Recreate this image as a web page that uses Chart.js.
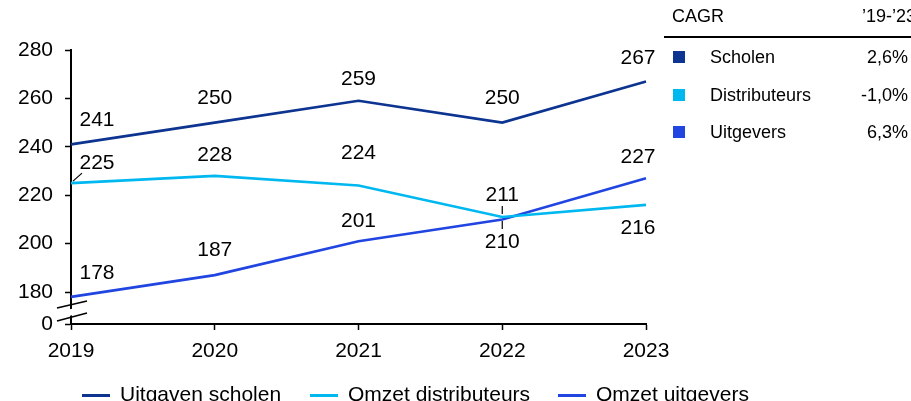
<!DOCTYPE html>
<html lang="nl">
<head>
    <meta charset="UTF-8">
    <title>Uitgaven scholen en omzet</title>
    <script src="https://cdn.jsdelivr.net/npm/chart.js"></script>
    <style>
        body {
            margin: 0;
            padding: 0;
            background: #fff;
            font-family: "Liberation Sans", Arial, sans-serif;
            color: #000;
        }
        .wrap {
            position: relative;
            width: 911px;
            height: 401px;
            overflow: hidden;
        }
        #chartCanvas {
            position: absolute;
            left: 0;
            top: 0;
        }
        /* CAGR table */
        .cagr {
            position: absolute;
            left: 664px;
            top: 0;
            width: 260px;
            font-size: 18px;
        }
        .cagr .head {
            position: absolute;
            top: 6px;
            left: 8px;
            width: 240px;
        }
        .cagr .rule {
            position: absolute;
            top: 36px;
            left: 0;
            width: 250px;
            border-top: 2px solid #000;
        }
        .cagr .row {
            position: absolute;
            left: 0;
            width: 247px;
            height: 20px;
            line-height: 20px;
        }
        .cagr .sq {
            position: absolute;
            left: 9px;
            top: 4px;
            width: 12px;
            height: 12px;
        }
        .cagr .name { position: absolute; left: 46px; }
        .cagr .val { position: absolute; right: 3px; }
        .cagr .headval { position: absolute; right: -4px; }
        /* legend */
        .legend {
            position: absolute;
            top: 382px;
            left: 0;
            width: 911px;
            font-size: 21px;
        }
        .legend .item { position: absolute; white-space: nowrap; }
        .legend .swatch {
            position: absolute;
            top: 12px;
            left: 0;
            width: 28px;
            height: 3px;
        }
        .legend .txt { position: absolute; left: 38px; top: 0; }
    </style>
</head>
<body>
<div class="wrap">
    <canvas id="chartCanvas" width="911" height="401"></canvas>
    <div class="cagr" id="cagr"></div>
    <div class="legend" id="legend"></div>
</div>

<script>
    // data
    const years = ['2019', '2020', '2021', '2022', '2023'];
    const seriesNames = ['Uitgaven scholen', 'Omzet distributeurs', 'Omzet uitgevers'];
    const scholen = [241, 250, 259, 250, 267];
    const distributeurs = [225, 228, 224, 211, 216];
    const uitgevers = [178, 187, 201, 210, 227];
    const cagrNames = ['Scholen', 'Distributeurs', 'Uitgevers'];
    const cagrValues = ['2,6%', '-1,0%', '6,3%'];
    const yTicks = [180, 200, 220, 240, 260, 280];

    const colors = ['#0C3490', '#00B8F0', '#2145E0'];

    // label offsets in px (dx, dy) from each point
    const labelOffsets = [
        [[26, -24], [0, -24], [0, -22], [0, -24], [-8, -23]],
        [[26, -20], [0, -21], [0, -32], [0, -22], [-8, 23]],
        [[26, -24], [0, -25], [0, -20], [0, 23], [-8, -21]]
    ];

    const Y_MIN = 166.8;   // position of the "0" after the axis break
    const FONT = '"Liberation Sans", Arial, sans-serif';

    // Data labels, leader lines and axis break
    const annotations = {
        id: 'annotations',
        afterDatasetsDraw(chart) {
            const c = chart.ctx;
            const xs = chart.scales.x, ys = chart.scales.y;
            c.save();
            c.font = '21px ' + FONT;
            c.fillStyle = '#000';
            c.textAlign = 'center';
            c.textBaseline = 'middle';
            chart.data.datasets.forEach((ds, i) => {
                ds.data.forEach((v, j) => {
                    const px = xs.getPixelForValue(j);
                    const py = ys.getPixelForValue(v);
                    const off = labelOffsets[i][j];
                    c.fillText(String(v), px + off[0], py + off[1]);
                });
            });

            // leader for 225
            c.strokeStyle = '#000';
            c.lineWidth = 1.2;
            const p0x = xs.getPixelForValue(0), p0y = ys.getPixelForValue(distributeurs[0]);
            c.beginPath();
            c.moveTo(p0x + 2, p0y - 2);
            c.lineTo(p0x + 11, p0y - 10);
            c.stroke();

            // dashed leader at 2022
            const p3x = xs.getPixelForValue(3);
            c.setLineDash([8, 7]);
            c.beginPath();
            c.moveTo(p3x, ys.getPixelForValue(distributeurs[3]) - 11);
            c.lineTo(p3x, ys.getPixelForValue(uitgevers[3]) + 10);
            c.stroke();
            c.setLineDash([]);

            // axis break
            const ax = chart.chartArea.left, ab = chart.chartArea.bottom;
            c.fillStyle = '#fff';
            c.beginPath();
            c.moveTo(ax - 5, ab - 14);
            c.lineTo(ax + 5, ab - 16);
            c.lineTo(ax + 5, ab - 10);
            c.lineTo(ax - 5, ab - 7);
            c.closePath();
            c.fill();
            c.strokeStyle = '#000';
            c.lineWidth = 1.6;
            c.beginPath();
            c.moveTo(ax - 14, ab - 16);
            c.lineTo(ax + 16, ab - 23);
            c.moveTo(ax - 14, ab - 3);
            c.lineTo(ax + 16, ab - 11);
            c.stroke();
            c.restore();
        }
    };

    const ctx = document.getElementById('chartCanvas').getContext('2d');
    const chart = new Chart(ctx, {
        type: 'line',
        data: {
            labels: years,
            datasets: [scholen, distributeurs, uitgevers].map((d, i) => ({
                label: seriesNames[i],
                data: d,
                borderColor: colors[i],
                backgroundColor: colors[i],
                borderWidth: 2.6,
                pointRadius: 0,
                tension: 0
            }))
        },
        options: {
            responsive: false,
            animation: false,
            layout: { padding: { left: 0, top: 50, right: 265, bottom: 0 } },
            plugins: {
                legend: { display: false },
                tooltip: { enabled: false }
            },
            scales: {
                x: {
                    offset: false,
                    afterFit: s => { s.height = 77; },
                    grid: {
                        drawOnChartArea: false,
                        drawTicks: true,
                        tickLength: 6,
                        tickWidth: 1.5,
                        color: '#000'
                    },
                    border: { color: '#000', width: 2 },
                    ticks: {
                        color: '#000',
                        padding: 9,
                        maxRotation: 0,
                        font: { family: FONT, size: 21 }
                    }
                },
                y: {
                    min: Y_MIN,
                    max: 280,
                    afterFit: s => { s.width = 71; },
                    afterBuildTicks: s => {
                        s.ticks = [Y_MIN].concat(yTicks).map(v => ({ value: v }));
                    },
                    grid: {
                        drawOnChartArea: false,
                        drawTicks: true,
                        tickLength: 6,
                        tickWidth: 1.5,
                        color: '#000'
                    },
                    border: { color: '#000', width: 2 },
                    ticks: {
                        color: '#000',
                        padding: 12,
                        font: { family: FONT, size: 21 },
                        callback: v => (v === Y_MIN ? '0' : String(v))
                    }
                }
            }
        },
        plugins: [annotations]
    });

    // CAGR table
    const cagr = document.getElementById('cagr');
    cagr.innerHTML = '<div class="head">CAGR<span class="headval">\u201919-\u201923</span></div><div class="rule"></div>';
    const rowTops = [47, 85, 122];
    cagrNames.forEach((n, i) => {
        const row = document.createElement('div');
        row.className = 'row';
        row.style.top = rowTops[i] + 'px';
        row.innerHTML = '<div class="sq" style="background:' + colors[i] + '"></div>' +
            '<span class="name">' + n + '</span><span class="val">' + cagrValues[i] + '</span>';
        cagr.appendChild(row);
    });

    // legend
    const legend = document.getElementById('legend');
    const legendLefts = [82, 310, 558];
    seriesNames.forEach((n, i) => {
        const item = document.createElement('div');
        item.className = 'item';
        item.style.left = legendLefts[i] + 'px';
        item.innerHTML = '<div class="swatch" style="background:' + colors[i] + '"></div><span class="txt">' + n + '</span>';
        legend.appendChild(item);
    });
</script>
</body>
</html>
